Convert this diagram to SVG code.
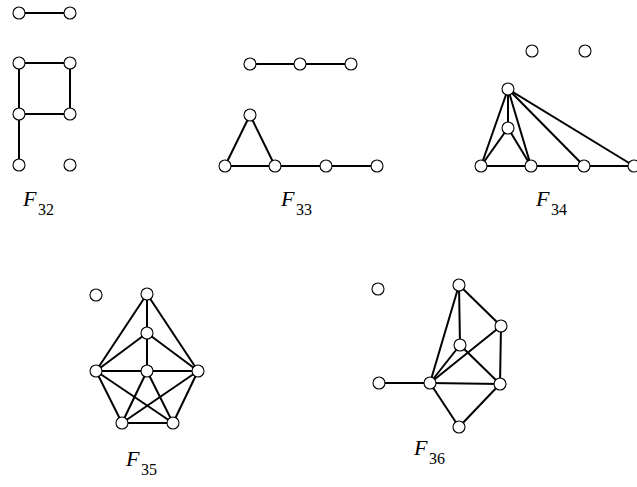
<svg xmlns="http://www.w3.org/2000/svg" width="637" height="487" viewBox="0 0 637 487">
<style>
.e{stroke:#000;stroke-width:2;fill:none}
.n{fill:#fff;stroke:#000;stroke-width:1.1}
.lb{font-family:"Liberation Serif","DejaVu Serif",serif;font-size:22px;fill:#000}
.lb .f{font-style:italic}
.lb .s{font-size:16px}
</style>
<rect width="637" height="487" fill="#fff"/>
<g id="connectors">
<!-- F32 -->
<line class="e" x1="19" y1="13" x2="70" y2="13"/>
<line class="e" x1="19" y1="63" x2="70" y2="63"/>
<line class="e" x1="19" y1="63" x2="19" y2="114"/>
<line class="e" x1="70" y1="63" x2="70" y2="114"/>
<line class="e" x1="19" y1="114" x2="70" y2="114"/>
<line class="e" x1="19" y1="114" x2="19" y2="165"/>
<!-- F33 -->
<line class="e" x1="250" y1="64" x2="351" y2="64"/>
<line class="e" x1="250" y1="115" x2="225" y2="166"/>
<line class="e" x1="250" y1="115" x2="275" y2="166"/>
<line class="e" x1="225" y1="166" x2="377" y2="166"/>
<!-- F34 -->
<line class="e" x1="508" y1="89" x2="481" y2="166"/>
<line class="e" x1="508" y1="89" x2="508" y2="128"/>
<line class="e" x1="508" y1="89" x2="531" y2="166"/>
<line class="e" x1="508" y1="89" x2="584" y2="166"/>
<line class="e" x1="508" y1="89" x2="634" y2="166"/>
<line class="e" x1="508" y1="128" x2="481" y2="166"/>
<line class="e" x1="508" y1="128" x2="531" y2="166"/>
<line class="e" x1="481" y1="166" x2="634" y2="166"/>
<!-- F35 -->
<line class="e" x1="147" y1="294" x2="147" y2="333"/>
<line class="e" x1="147" y1="294" x2="96" y2="371"/>
<line class="e" x1="147" y1="294" x2="198" y2="371"/>
<line class="e" x1="147" y1="333" x2="96" y2="371"/>
<line class="e" x1="147" y1="333" x2="198" y2="371"/>
<line class="e" x1="147" y1="333" x2="147" y2="371"/>
<line class="e" x1="96" y1="371" x2="198" y2="371"/>
<line class="e" x1="96" y1="371" x2="122" y2="423"/>
<line class="e" x1="96" y1="371" x2="173" y2="423"/>
<line class="e" x1="198" y1="371" x2="122" y2="423"/>
<line class="e" x1="198" y1="371" x2="173" y2="423"/>
<line class="e" x1="147" y1="371" x2="122" y2="423"/>
<line class="e" x1="147" y1="371" x2="173" y2="423"/>
<line class="e" x1="122" y1="423" x2="173" y2="423"/>
<!-- F36 -->
<line class="e" x1="379" y1="383" x2="430" y2="383"/>
<line class="e" x1="459" y1="285" x2="430" y2="383"/>
<line class="e" x1="459" y1="285" x2="460" y2="345"/>
<line class="e" x1="459" y1="285" x2="501" y2="326"/>
<line class="e" x1="501" y1="326" x2="430" y2="383"/>
<line class="e" x1="501" y1="326" x2="500" y2="384"/>
<line class="e" x1="460" y1="345" x2="430" y2="383"/>
<line class="e" x1="460" y1="345" x2="500" y2="384"/>
<line class="e" x1="430" y1="383" x2="500" y2="384"/>
<line class="e" x1="430" y1="383" x2="459" y2="427"/>
<line class="e" x1="459" y1="427" x2="500" y2="384"/>
</g>
<g id="F32">
<circle class="n" cx="19" cy="13" r="6"/><circle class="n" cx="70" cy="13" r="6"/>
<circle class="n" cx="19" cy="63" r="6"/><circle class="n" cx="70" cy="63" r="6"/>
<circle class="n" cx="19" cy="114" r="6"/><circle class="n" cx="70" cy="114" r="6"/>
<circle class="n" cx="19" cy="165" r="6"/><circle class="n" cx="70" cy="165" r="6"/>
<text class="lb" x="23" y="206"><tspan class="f">F</tspan><tspan class="s" x="38" y="215">32</tspan></text>
</g>
<g id="F33">
<circle class="n" cx="250" cy="64" r="6"/><circle class="n" cx="300" cy="64" r="6"/><circle class="n" cx="351" cy="64" r="6"/>
<circle class="n" cx="250" cy="115" r="6"/>
<circle class="n" cx="225" cy="166" r="6"/><circle class="n" cx="275" cy="166" r="6"/><circle class="n" cx="326" cy="166" r="6"/><circle class="n" cx="377" cy="166" r="6"/>
<text class="lb" x="281" y="206"><tspan class="f">F</tspan><tspan class="s" x="296" y="215">33</tspan></text>
</g>
<g id="F34">
<circle class="n" cx="532" cy="51" r="6"/><circle class="n" cx="585" cy="51" r="6"/>
<circle class="n" cx="508" cy="89" r="6"/>
<circle class="n" cx="508" cy="128" r="6"/>
<circle class="n" cx="481" cy="166" r="6"/><circle class="n" cx="531" cy="166" r="6"/><circle class="n" cx="584" cy="166" r="6"/><circle class="n" cx="634" cy="166" r="6"/>
<text class="lb" x="536" y="206"><tspan class="f">F</tspan><tspan class="s" x="551" y="215">34</tspan></text>
</g>
<g id="F35">
<circle class="n" cx="96" cy="295" r="6"/>
<circle class="n" cx="147" cy="294" r="6"/>
<circle class="n" cx="147" cy="333" r="6"/>
<circle class="n" cx="96" cy="371" r="6"/><circle class="n" cx="147" cy="371" r="6"/><circle class="n" cx="198" cy="371" r="6"/>
<circle class="n" cx="122" cy="423" r="6"/><circle class="n" cx="173" cy="423" r="6"/>
<text class="lb" x="126" y="466"><tspan class="f">F</tspan><tspan class="s" x="141" y="475">35</tspan></text>
</g>
<g id="F36">
<circle class="n" cx="378" cy="289" r="6"/>
<circle class="n" cx="459" cy="285" r="6"/>
<circle class="n" cx="501" cy="326" r="6"/>
<circle class="n" cx="460" cy="345" r="6"/>
<circle class="n" cx="379" cy="383" r="6"/><circle class="n" cx="430" cy="383" r="6"/><circle class="n" cx="500" cy="384" r="6"/>
<circle class="n" cx="459" cy="427" r="6"/>
<text class="lb" x="414" y="455"><tspan class="f">F</tspan><tspan class="s" x="429" y="464">36</tspan></text>
</g>
</svg>
